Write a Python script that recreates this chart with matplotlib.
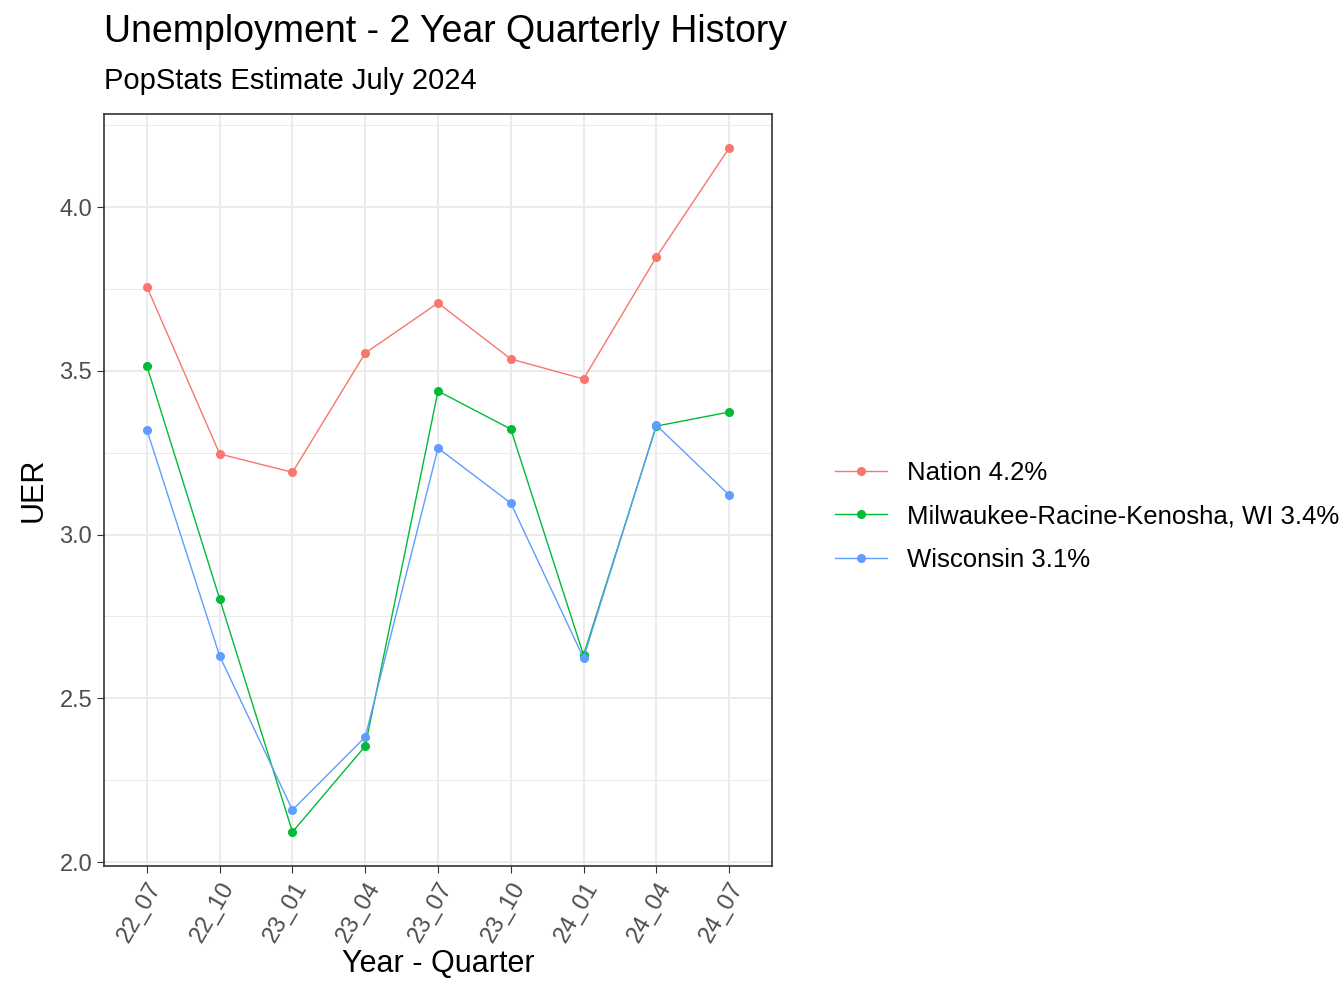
import matplotlib
matplotlib.use("Agg")
import matplotlib.pyplot as plt

quarters = ["22_07", "22_10", "23_01", "23_04", "23_07", "23_10", "24_01", "24_04", "24_07"]
nation = [3.756, 3.246, 3.19, 3.554, 3.707, 3.536, 3.475, 3.847, 4.18]
milwaukee = [3.514, 2.803, 2.092, 2.354, 3.438, 3.322, 2.632, 3.331, 3.374]
wisconsin = [3.319, 2.629, 2.159, 2.382, 3.264, 3.096, 2.623, 3.334, 3.121]

series = [
    ("Nation 4.2%", nation, "#F8766D"),
    ("Milwaukee-Racine-Kenosha, WI 3.4%", milwaukee, "#00BA38"),
    ("Wisconsin 3.1%", wisconsin, "#619CFF"),
]

plt.rcParams["font.family"] = "Liberation Sans"
fig = plt.figure(figsize=(13.44, 10.08), dpi=100)
ax = fig.add_axes([104 / 1344, 1 - 866 / 1008, 668 / 1344, 752 / 1008])

x = list(range(len(quarters)))
for name, vals, col in series:
    ax.plot(x, vals, color=col, lw=1.0, marker="o", ms=5.5, label=name)

ax.set_xlim(-0.59, len(quarters) - 1 + 0.59)
ax.set_ylim(1.988, 4.284)
ax.set_xticks(x)
ax.set_xticklabels(quarters, rotation=60, ha="right", rotation_mode="anchor", fontsize=17, color="#4d4d4d")
ax.set_yticks([2.0, 2.5, 3.0, 3.5, 4.0])
ax.set_yticklabels(["2.0", "2.5", "3.0", "3.5", "4.0"], fontsize=17, color="#4d4d4d")
ax.set_yticks([2.25, 2.75, 3.25, 3.75, 4.25], minor=True)
ax.grid(True, which="major", color="#ebebeb", lw=1.4)
ax.grid(True, which="minor", axis="y", color="#ebebeb", lw=0.7)
ax.tick_params(which="minor", length=0)
ax.tick_params(which="major", length=5, color="#333333")
ax.set_axisbelow(True)
for s in ax.spines.values():
    s.set_color("#333333")
    s.set_linewidth(1.2)

ax.set_xlabel("Year - Quarter", fontsize=22, labelpad=2)
ax.set_ylabel("UER", fontsize=22, labelpad=8)
fig.text(104 / 1344, 1 - 32 / 1008, "Unemployment - 2 Year Quarterly History", fontsize=27, va="center")
fig.text(104 / 1344, 1 - 81 / 1008, "PopStats Estimate July 2024", fontsize=21, va="center")

ax.legend(loc="center left", bbox_to_anchor=(1.06, 0.465), frameon=False, fontsize=18.5,
          handlelength=2, labelspacing=0.75)

fig.savefig("out.png", dpi=100)
